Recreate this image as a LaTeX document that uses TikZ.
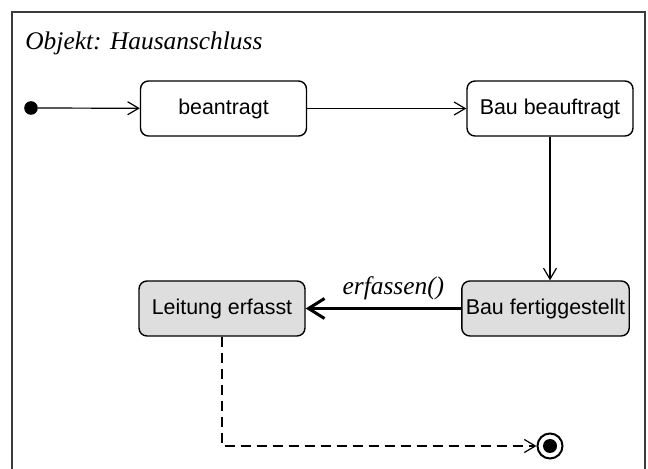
\documentclass[tikz,border=0pt]{standalone}
\usepackage{fontspec}
\setmainfont{Liberation Serif}
\setsansfont{Liberation Sans}
\usetikzlibrary{arrows.meta,positioning}
\definecolor{fertig}{HTML}{DEDEDE}
\definecolor{rahmen}{HTML}{3C3C3C}

\begin{document}
\begin{tikzpicture}[
  x=0.5pt,y=-0.5pt,
  font=\sffamily\fontsize{10.7}{12.5}\selectfont,
  zustand/.style={draw,fill=#1,rounded corners=4pt,line width=.7pt,
    minimum width=83pt,minimum height=27.5pt,inner sep=2pt},
  zustand/.default=white,
  trans/.style={-{Straight Barb[length=5.5pt,width=6.5pt]},line width=.6pt},
  aktion/.style={-{Straight Barb[length=8pt,width=10pt]},line width=1.5pt},
  label/.style={font=\rmfamily\itshape\fontsize{12.7}{15}\selectfont}
]
\useasboundingbox (0,0) rectangle (648,469);
\draw[rahmen,line width=1pt] (12,469) -- (12,12) -- (645,12) -- (645,469);
\node[label,anchor=base west,inner sep=0pt] (titel) at (25,50) {Objekt: Hausanschluss};
\node[circle,fill,inner sep=0pt,minimum size=6.8pt] (start) at (31,108) {};
\node[zustand] (beantragt) at (223.5,108.5) {beantragt};
\node[zustand] (beauftragt) at (550,108.5) {Bau beauftragt};
\node[zustand=fertig] (gestellt) at (545.5,308.5) {Bau fertiggestellt};
\node[zustand=fertig] (erfasst) at (222,308.5) {Leitung erfasst};
\node[circle,draw,line width=1pt,inner sep=0pt,minimum size=12.5pt,
  path picture={\fill (path picture bounding box.center) circle (3.5pt);}] (ende) at (550,446) {};
\foreach \von/\nach in {start/beantragt,beantragt/beauftragt}
  \draw[trans] (\von) -- (\nach);
\draw[trans] (beauftragt) -- (beauftragt |- gestellt.north);
\draw[aktion] (gestellt) -- node[label,above,xshift=5pt] {erfassen()} (erfasst);
\draw[trans,dash pattern=on 5pt off 3pt] (erfasst) |- (ende);
\end{tikzpicture}
\end{document}
